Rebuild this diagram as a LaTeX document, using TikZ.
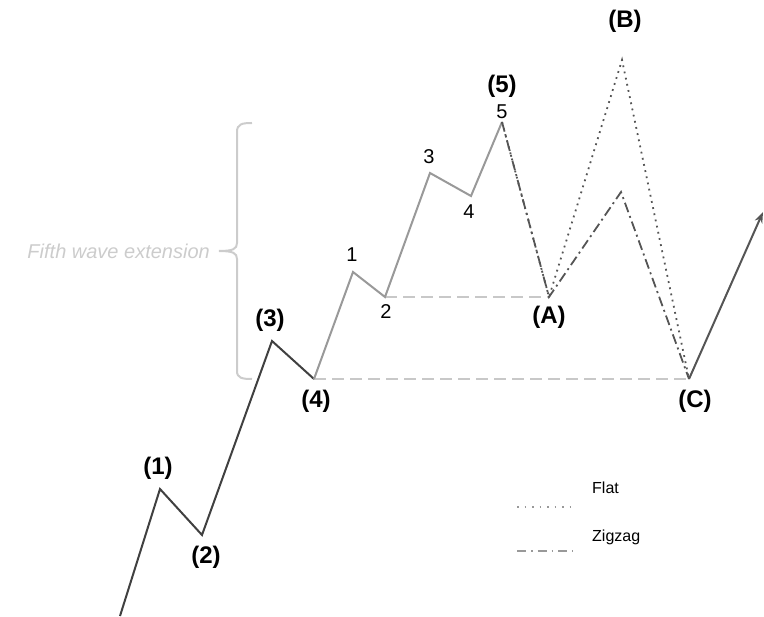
\documentclass[tikz,border=0pt]{standalone}
\usepackage{fontspec}
\setmainfont{Liberation Sans}
\usetikzlibrary{arrows.meta}
\definecolor{mainc}{HTML}{404040}
\definecolor{subc}{HTML}{999999}
\definecolor{hlc}{HTML}{C8C8C8}
\definecolor{bracec}{HTML}{CCCCCC}
\definecolor{corrc}{HTML}{555555}
\tikzset{
  mainwave/.style={draw=mainc, line width=2pt, line join=miter},
  subwave/.style={draw=subc, line width=2pt},
  level/.style={draw=hlc, line width=2pt, dash pattern=on 12pt off 6pt},
  flatline/.style={draw=corrc, line width=1.8pt, dash pattern=on 1.8pt off 4.5pt},
  zigline/.style={draw=corrc, line width=1.8pt, dash pattern=on 10pt off 4pt on 2pt off 4pt},
  biglab/.style={font=\fontsize{24}{28}\selectfont\bfseries, text=black, inner sep=0pt},
  smalllab/.style={font=\fontsize{20}{24}\selectfont, text=black, inner sep=0pt},
  leglab/.style={font=\fontsize{16}{19}\selectfont, text=black, inner sep=0pt, anchor=west},
}
\begin{document}
\begin{tikzpicture}[x=1pt, y=-1pt]
\useasboundingbox (0,0) rectangle (764,617);
% points
\coordinate (s0) at (120,616);
\coordinate (w1) at (160,489);
\coordinate (w2) at (202,535);
\coordinate (w3) at (272,341);
\coordinate (w4) at (314,379);
\coordinate (v1) at (353,272);
\coordinate (v2) at (385,297);
\coordinate (v3) at (430,173);
\coordinate (v4) at (471,196);
\coordinate (v5) at (502,122);
\coordinate (ca) at (549,297);
\coordinate (cbf) at (622,60);
\coordinate (cbz) at (621,192);
\coordinate (cc) at (689,379);
\coordinate (fin) at (763,212);
% levels
\draw[level] (w4) -- (cc);
\draw[level] (v2) -- (ca);
% main waves
\draw[mainwave] (s0) -- (w1) -- (w2) -- (w3) -- (w4);
% sub waves
\draw[subwave] (w4) -- (v1) -- (v2) -- (v3) -- (v4) -- (v5);
% corrections
\draw[flatline] (v5) -- (ca) -- (cbf) -- (cc);
\draw[zigline] (v5) -- (ca) -- (cbz) -- (cc);
\draw[draw=corrc, line width=2pt, -{Stealth[length=11pt,width=8pt]}] (cc) -- (fin);
% brace
\draw[draw=bracec, line width=2pt] (252,123) .. controls (242,123) and (237,124) .. (237,132) -- (237,243) .. controls (237,249) and (233,251) .. (219,251);
\draw[draw=bracec, line width=2pt] (219,251) .. controls (233,251) and (237,253) .. (237,259) -- (237,371) .. controls (237,378) and (242,379) .. (252,379);
\node[font=\fontsize{20}{24}\selectfont\itshape, text=bracec, anchor=east, inner sep=0pt] (ext) at (210,251) {Fifth wave extension};
% big labels
\node[biglab] (l1) at (158,468) {(1)};
\node[biglab] (l2) at (206,557) {(2)};
\node[biglab] (l3) at (270,320) {(3)};
\node[biglab] (l4) at (316,401) {(4)};
\node[biglab] (l5) at (502,86) {(5)};
\node[biglab] (lB) at (625,21) {(B)};
\node[biglab] (lA) at (549,317) {(A)};
\node[biglab] (lC) at (695,401) {(C)};
% small labels
\node[smalllab] (s1) at (352,255) {1};
\node[smalllab] (s2) at (386,312) {2};
\node[smalllab] (s3) at (429,157) {3};
\node[smalllab] (s4) at (469,212) {4};
\node[smalllab] (s5) at (502,112) {5};
% legend
\node[leglab] (flat) at (592,488) {Flat};
\node[leglab] (zig) at (592,537) {Zigzag};
\coordinate (fa) at (517,507);
\coordinate (fb) at (573,507);
\coordinate (za) at (517,551);
\coordinate (zb) at (573,551);
\draw[draw=subc, line width=1.5pt, dash pattern=on 1.5pt off 6pt] (fa) -- (fb);
\draw[draw=subc, line width=1.5pt, dash pattern=on 9pt off 5pt on 1.5pt off 5pt] (za) -- (zb);
\end{tikzpicture}
\end{document}
